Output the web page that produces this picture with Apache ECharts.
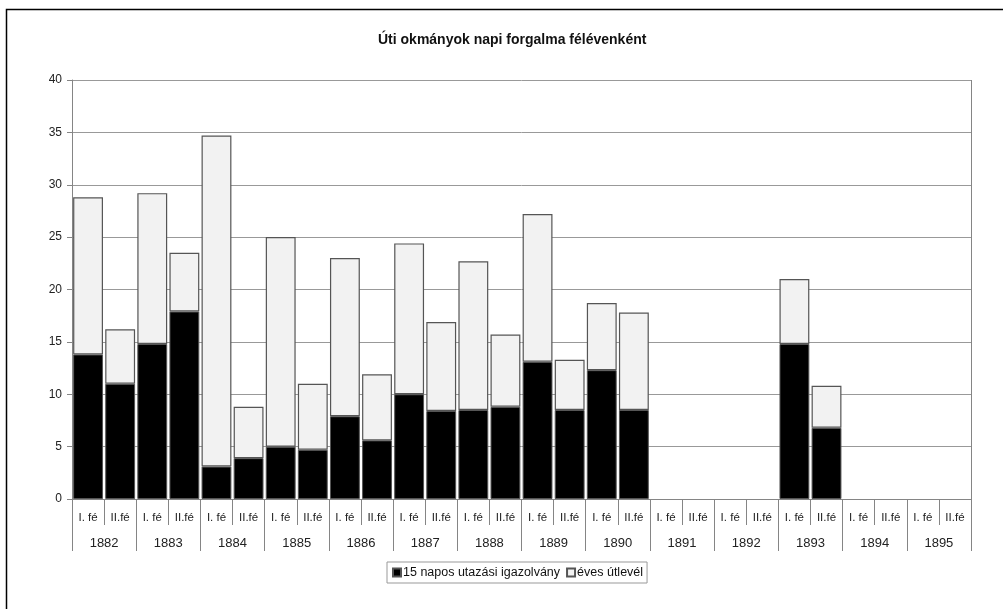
<!DOCTYPE html>
<html>
<head>
<meta charset="utf-8">
<script src="https://cdn.jsdelivr.net/npm/echarts@6/dist/echarts.min.js"></script>
<style>html,body{margin:0;padding:0;background:#fff;}#c{width:1003px;height:609px;}</style>
</head>
<body>
<div id="c"></div>
<script>
const titleText = 'Úti okmányok napi forgalma félévenként';
const years = ['1882','1883','1884','1885','1886','1887','1888','1889','1890','1891','1892','1893','1894','1895'];
const halves = ['I. fé','II.fé'];
const seriesNames = ['15 napos utazási igazolvány', 'éves útlevél'];
// 15 napos utazási igazolvány (black, bottom)
const igazolvany = [13.8, 11.0, 14.8, 17.9, 3.1, 3.9, 5.0, 4.7, 7.9, 5.6, 10.0, 8.4, 8.5, 8.8, 13.1, 8.5, 12.3, 8.5, 0, 0, 0, 0, 14.8, 6.8, 0, 0, 0, 0];
// éves útlevél (light, stacked on top)
const utlevel = [15.0, 5.2, 14.4, 5.6, 31.6, 4.9, 20.0, 6.3, 15.1, 6.3, 14.4, 8.5, 14.2, 6.9, 14.1, 4.8, 6.4, 9.3, 0, 0, 0, 0, 6.2, 4.0, 0, 0, 0, 0];
const yTicks = {min: 0, max: 40, interval: 5};

const cats = [];
years.forEach(y => halves.forEach(h => cats.push(y + ' ' + h)));
// zero values mean "no data drawn" (no bar outline at zero)
const asBars = arr => arr.map(v => (v === 0 ? null : v));

const chart = echarts.init(document.getElementById('c'));
const font = 'Liberation Sans, Arial, sans-serif';
const tickColor = '#858585';
chart.setOption({
  animation: false,
  backgroundColor: '#fff',
  title: {
    text: titleText, left: 373, top: 28,
    textStyle: {fontFamily: font, fontSize: 14, fontWeight: 'bold', color: '#111'}
  },
  legend: {
    top: 562, left: 387,
    data: seriesNames,
    icon: 'rect', itemWidth: 8, itemHeight: 8, itemGap: 6,
    borderColor: '#999', borderWidth: 1, padding: [4, 4, 4, 5],
    textStyle: {fontFamily: font, fontSize: 12.5, color: '#111', padding: [0, 0, 0, -3]},
    selectedMode: false
  },
  grid: {left: 72, right: 32, top: 80, bottom: 110, show: false},
  xAxis: [
    {
      type: 'category', data: cats,
      axisLine: {show: true, lineStyle: {color: tickColor, width: 1}},
      axisTick: {show: true, interval: 0, length: 26, lineStyle: {color: tickColor}},
      axisLabel: {
        formatter: v => v.split(' ').slice(1).join(' '),
        fontFamily: font, fontSize: 11.5, color: '#222', margin: 13, interval: 0
      }
    },
    {
      type: 'category', data: years, position: 'bottom',
      axisLine: {show: false},
      axisTick: {show: true, interval: 0, length: 52, lineStyle: {color: tickColor}},
      axisLabel: {fontFamily: font, fontSize: 13, color: '#222', margin: 38, interval: 0}
    }
  ],
  yAxis: {
    type: 'value', min: yTicks.min, max: yTicks.max, interval: yTicks.interval,
    axisLine: {show: true, lineStyle: {color: tickColor}},
    axisTick: {show: true, length: 5, lineStyle: {color: tickColor}},
    axisLabel: {fontFamily: font, fontSize: 12, color: '#222', margin: 10},
    splitLine: {lineStyle: {color: '#999', width: 1}}
  },
  series: [
    {
      name: seriesNames[0], type: 'bar', stack: 'a', data: asBars(igazolvany),
      barCategoryGap: '7%',
      itemStyle: {color: '#000', borderColor: '#555', borderWidth: 1}
    },
    {
      name: seriesNames[1], type: 'bar', stack: 'a', data: asBars(utlevel),
      barCategoryGap: '7%',
      itemStyle: {color: '#f2f2f2', borderColor: '#555', borderWidth: 1.2}
    }
  ],
  graphic: [
    {type: 'rect', shape: {x: 6.5, y: 9.5, width: 1100, height: 700}, style: {fill: 'none', stroke: '#000', lineWidth: 1.5}, silent: true},
    {type: 'line', shape: {x1: 971.5, y1: 80, x2: 971.5, y2: 499}, style: {stroke: tickColor, lineWidth: 1}, silent: true}
  ]
});
</script>
</body>
</html>
